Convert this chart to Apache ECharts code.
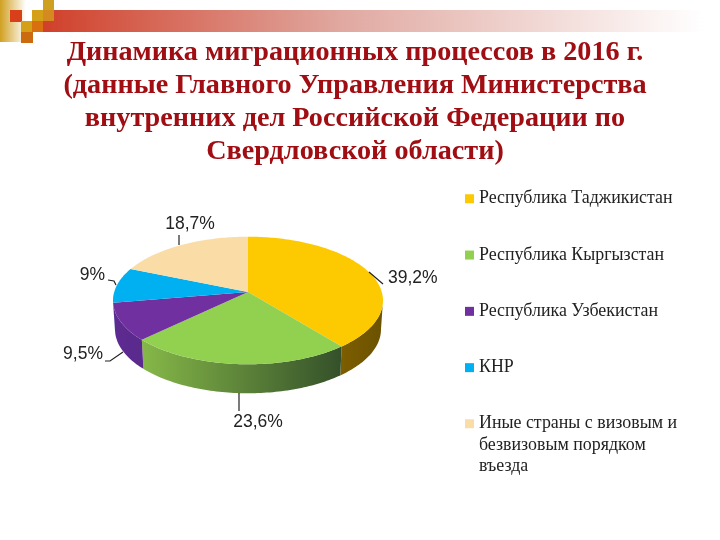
<!DOCTYPE html>
<html><head><meta charset="utf-8">
<style>html,body{margin:0;padding:0;background:#fff}#c{width:720px;height:540px}</style>
<script src="https://cdn.jsdelivr.net/npm/echarts@6/dist/echarts.min.js"></script>
</head><body><div id="c"></div>
<script>
const titleText = 'Динамика миграционных процессов в 2016 г.\n(данные Главного Управления Министерства\nвнутренних дел Российской Федерации по\nСвердловской области)';
const categories = ['Республика Таджикистан','Республика Кыргызстан','Республика Узбекистан','КНР','Иные страны с визовым и\nбезвизовым порядком\nвъезда'];
const values = [39.2,23.6,9.5,9,18.7];
const topColors = ['#FDC900','#92D050','#7030A0','#00B0F0','#FADDA6'];
const wallColors = [['#7D5E00','#6B5200'],['#86B848','#34502A'],['#5E2A92','#5A2A8C'],['#0090C8','#0090C8'],['#C8B080','#C8B080']];
const leaders = [
  {pts:[[369,272],[383,284]],text:[388,278],align:'left'},
  {pts:[[239,393],[239,411]],text:[258,422],align:'center'},
  {pts:[[123,352],[110,361],[105,361]],text:[103,354],align:'right'},
  {pts:[[116,285],[114,281],[108,280]],text:[105,275],align:'right'},
  {pts:[[179,245],[179,235]],text:[190,224],align:'center'}
];
// perspective of the tilted disc
const cx=248, cy=292, a=133.8, b=62.65, k=0.133, depth=29, shrink=0.985;
const total = values.reduce((s,v)=>s+v,0);
function proj(th){const u=Math.sin(th),v=Math.cos(th),w=1+k*v;return [cx+a*u/w,cy-b*v/w];}
function low(p){return [cx+(p[0]-cx)*shrink,p[1]+depth];}
function frac(i){let s=0;for(let j=0;j<i;j++)s+=values[j];return s/total;}
const thFront0=Math.PI-Math.acos(k), thFront1=Math.PI+Math.acos(k);

function render(i){
  return function(params,api){
    const val=api.value(0);
    const t0=frac(i)*2*Math.PI, t1=t0+val/total*2*Math.PI;
    const kids=[], top=[[cx,cy]];
    const n=Math.max(12,Math.ceil((t1-t0)/0.02));
    for(let s=0;s<=n;s++) top.push(proj(t0+(t1-t0)*s/n));
    const w0=Math.max(t0,thFront0), w1=Math.min(t1,thFront1);
    if(w1>w0){
      const up=[],dn=[];const m=Math.max(8,Math.ceil((w1-w0)/0.02));
      for(let s=0;s<=m;s++){const p=proj(w0+(w1-w0)*s/m);up.push(p);dn.unshift(low(p));}
      kids.push({type:'polygon',z2:1,shape:{points:up.concat(dn)},style:{fill:new echarts.graphic.LinearGradient(0,0,1,0,[{offset:0,color:wallColors[i][0]},{offset:1,color:wallColors[i][1]}])}});
    }
    kids.push({type:'polygon',z2:5,shape:{points:top},style:{fill:topColors[i]}});
    const L=leaders[i];
    kids.push({type:'polyline',z2:6,shape:{points:L.pts},style:{fill:null,stroke:'#222',lineWidth:1.2}});
    kids.push({type:'text',z2:6,style:{x:L.text[0],y:L.text[1],text:String(val).replace('.',',')+'%',align:L.align,verticalAlign:'middle',fill:'#222',font:'17.5px "Liberation Sans"'}});
    return {type:'group',children:kids};
  };
}
const chart=echarts.init(document.getElementById('c'),null,{renderer:'canvas'});
const legendText={fontFamily:'Liberation Serif',fontSize:17.9,color:'#222',lineHeight:21.5};
chart.setOption({
  animation:false,
  title:{text:titleText,left:350,top:31,textAlign:'center',textStyle:{fontFamily:'Liberation Serif',fontWeight:'bold',fontSize:28.2,lineHeight:33,color:'#A00D12'}},
  legend:[
    {orient:'vertical',left:460,top:183,itemWidth:9,itemHeight:9,itemGap:34.8,icon:'rect',selectedMode:false,data:categories.slice(0,4),textStyle:legendText},
    {orient:'vertical',left:460,top:365,itemWidth:9,itemHeight:9,icon:'rect',selectedMode:false,data:categories.slice(4),textStyle:legendText,formatter:n=>'\n\n'+n}
  ],
  graphic:{elements:[
    {type:'rect',shape:{x:0,y:0,width:26,height:42},style:{fill:new echarts.graphic.LinearGradient(0,0,1,0,[{offset:0,color:'#D0A020'},{offset:1,color:'#FFFFFF'}])},z:0},
    {type:'rect',shape:{x:43,y:10,width:660,height:22},style:{fill:new echarts.graphic.LinearGradient(0,0,1,0,[{offset:0,color:'#D0402A'},{offset:0.45,color:'#E0A8A0'},{offset:1,color:'#FFFFFF'}])},z:0},
    {type:'rect',shape:{x:10,y:10,width:12,height:12},style:{fill:'#D8401A'},z:1},
    {type:'rect',shape:{x:32,y:10,width:11,height:11},style:{fill:'#D4A017'},z:1},
    {type:'rect',shape:{x:43,y:0,width:11,height:10},style:{fill:'#CDA020'},z:1},
    {type:'rect',shape:{x:43,y:10,width:11,height:11},style:{fill:'#D48A20'},z:1},
    {type:'rect',shape:{x:21,y:21,width:11,height:11},style:{fill:'#D4A017'},z:1},
    {type:'rect',shape:{x:32,y:21,width:11,height:11},style:{fill:'#D87010'},z:1},
    {type:'rect',shape:{x:21,y:32,width:12,height:11},style:{fill:'#CC6A10'},z:1}
  ]},
  series:categories.map((name,i)=>({
    type:'custom',name,coordinateSystem:'none',silent:true,
    itemStyle:{color:topColors[i]},
    renderItem:render(i),data:[[values[i]]]
  }))
});
</script></body></html>
